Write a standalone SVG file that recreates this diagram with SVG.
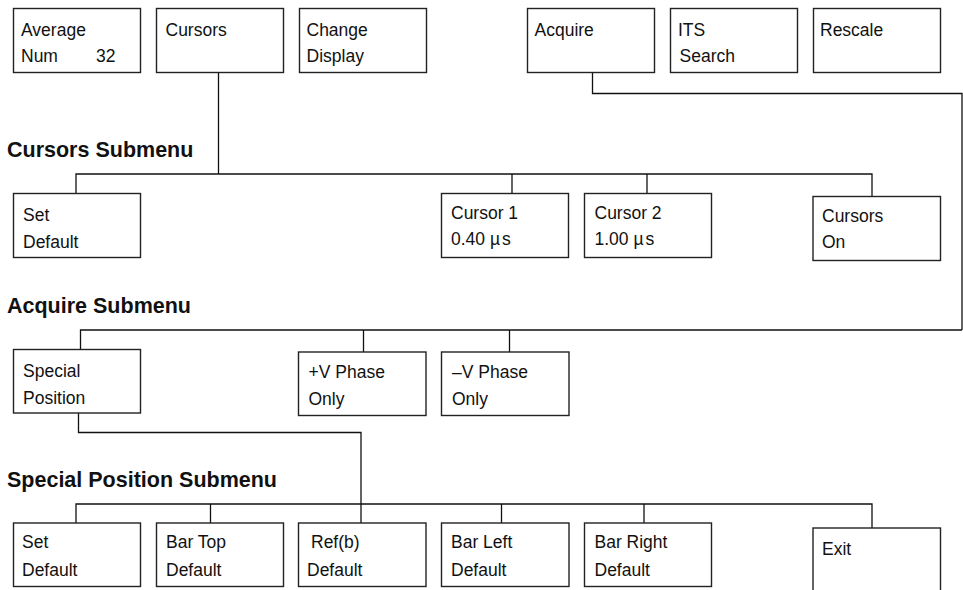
<svg xmlns="http://www.w3.org/2000/svg" width="963" height="590" viewBox="0 0 963 590">
<style>
.box{fill:#fff;stroke:#222;stroke-width:1.4}
.t{font-family:"Liberation Sans",Arial,sans-serif;font-size:17.5px;fill:#111}
.h{font-family:"Liberation Sans",Arial,sans-serif;font-size:21.5px;font-weight:bold;fill:#111}
.c{fill:none;stroke:#111;stroke-width:1.3}
</style>
<rect width="963" height="590" fill="#fff"/>
<g id="connectors">
<polyline class="c" points="218.5,72 218.5,174"/>
<polyline class="c" points="76,193 76,174 872,174 872,196"/>
<line class="c" x1="512" y1="174" x2="512" y2="193"/>
<line class="c" x1="647" y1="174" x2="647" y2="193"/>
<polyline class="c" points="592.5,72 592.5,93.5 962,93.5 962,330"/>
<polyline class="c" points="962,330 80.5,330 80.5,350"/>
<line class="c" x1="363.5" y1="330" x2="363.5" y2="352"/>
<line class="c" x1="509.5" y1="330" x2="509.5" y2="352"/>
<polyline class="c" points="78.5,413 78.5,432.5 361,432.5 361,523"/>
<polyline class="c" points="76,523 76,504 872,504 872,528"/>
<line class="c" x1="210.5" y1="504" x2="210.5" y2="523"/>
<line class="c" x1="501.5" y1="504" x2="501.5" y2="523"/>
<line class="c" x1="644" y1="504" x2="644" y2="523"/>
</g>
<g id="headers">
<text class="h" x="7" y="157">Cursors Submenu</text>
<text class="h" x="7" y="313">Acquire Submenu</text>
<text class="h" x="7" y="487">Special Position Submenu</text>
</g>
<g id="average"><rect class="box" x="13.5" y="8.5" width="127" height="64"/><text class="t" x="21" y="36">Average</text><text class="t" x="21" y="62">Num</text><text class="t" x="96" y="62">32</text></g>
<g id="cursors"><rect class="box" x="156.5" y="8.5" width="127" height="64"/><text class="t" x="165.5" y="36">Cursors</text></g>
<g id="change-display"><rect class="box" x="299.5" y="8.5" width="127" height="64"/><text class="t" x="306.5" y="36">Change</text><text class="t" x="306.5" y="62">Display</text></g>
<g id="acquire"><rect class="box" x="527.5" y="8.5" width="127" height="64"/><text class="t" x="534.5" y="36">Acquire</text></g>
<g id="its-search"><rect class="box" x="670.5" y="8.5" width="127" height="64"/><text class="t" x="678" y="36">ITS</text><text class="t" x="679.5" y="62">Search</text></g>
<g id="rescale"><rect class="box" x="813.5" y="8.5" width="127" height="64"/><text class="t" x="820" y="36">Rescale</text></g>
<g id="set-default-1"><rect class="box" x="13.5" y="193.5" width="127" height="64"/><text class="t" x="23" y="221">Set</text><text class="t" x="23" y="248">Default</text></g>
<g id="cursor-1"><rect class="box" x="441.5" y="193.5" width="127" height="64"/><text class="t" x="451" y="219">Cursor 1</text><text class="t" x="451" y="245">0.40 µ<tspan dx="2">s</tspan></text></g>
<g id="cursor-2"><rect class="box" x="584.5" y="193.5" width="127" height="64"/><text class="t" x="594.5" y="219">Cursor 2</text><text class="t" x="594.5" y="245">1.00 µ<tspan dx="2">s</tspan></text></g>
<g id="cursors-on"><rect class="box" x="813" y="196.5" width="127.5" height="64"/><text class="t" x="822" y="222">Cursors</text><text class="t" x="822" y="248">On</text></g>
<g id="special-position"><rect class="box" x="13.5" y="349.5" width="127" height="63.5"/><text class="t" x="23" y="377">Special</text><text class="t" x="23" y="404">Position</text></g>
<g id="plus-v-phase"><rect class="box" x="298.5" y="352" width="127.5" height="63.5"/><text class="t" x="308.5" y="378">+V Phase</text><text class="t" x="308.5" y="405">Only</text></g>
<g id="minus-v-phase"><rect class="box" x="441.5" y="352" width="127.5" height="63.5"/><text class="t" x="452" y="378">–V Phase</text><text class="t" x="452" y="405">Only</text></g>
<g id="set-default-2"><rect class="box" x="13.5" y="523" width="127" height="63.5"/><text class="t" x="22" y="548">Set</text><text class="t" x="22" y="576">Default</text></g>
<g id="bar-top"><rect class="box" x="156.5" y="523" width="127" height="63.5"/><text class="t" x="166" y="548">Bar Top</text><text class="t" x="166" y="576">Default</text></g>
<g id="ref-b"><rect class="box" x="298.5" y="523" width="127.5" height="63.5"/><text class="t" x="311" y="548">Ref(b)</text><text class="t" x="307" y="576">Default</text></g>
<g id="bar-left"><rect class="box" x="441.5" y="523" width="127.5" height="63.5"/><text class="t" x="451" y="548">Bar Left</text><text class="t" x="451" y="576">Default</text></g>
<g id="bar-right"><rect class="box" x="584.5" y="523" width="127" height="63.5"/><text class="t" x="594.5" y="548">Bar Right</text><text class="t" x="594.5" y="576">Default</text></g>
<g id="exit"><rect class="box" x="813" y="528" width="127.5" height="70"/><text class="t" x="822" y="555">Exit</text></g>
</svg>
